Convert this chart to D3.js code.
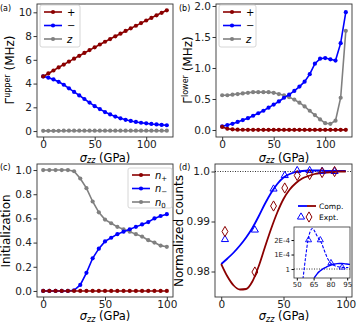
<!DOCTYPE html>
<html>
<head>
  <meta charset="utf-8">
  <script src="https://d3js.org/d3.v7.min.js"></script>
  <style>
    body { margin: 0; background: #fff; }
    text { font-family: "DejaVu Sans", sans-serif; }
  </style>
</head>
<body>
<script>
// ---- data ----
var sigAB = [0,5,10,15,20,25,30,35,40,45,50,55,60,65,70,75,80,85,90,95,100,105,110,115,120];
var upPlus  = [4.6,4.85,5.1,5.36,5.6,5.85,6.1,6.34,6.58,6.82,7.05,7.29,7.52,7.75,7.98,8.2,8.43,8.65,8.87,9.09,9.31,9.53,9.75,9.96,10.17];
var upMinus = [4.6,4.5,4.35,4.15,3.9,3.6,3.3,3.0,2.7,2.4,2.1,1.85,1.6,1.4,1.22,1.07,0.95,0.85,0.77,0.7,0.65,0.6,0.56,0.52,0.49];
var upZ     = [0.02,0.02,0.02,0.02,0.03,0.03,0.03,0.03,0.03,0.03,0.03,0.03,0.03,0.03,0.03,0.03,0.03,0.03,0.03,0.03,0.03,0.03,0.03,0.03,0.03];
var loPlus  = [0.05,0.02,0.01,0.005,0.004,0.003,0.003,0.003,0.002,0.002,0.002,0.002,0.002,0.002,0.002,0.002,0.002,0.002,0.002,0.002,0.002,0.002,0.002,0.002,0.002];
var loMinus = [0.06,0.08,0.1,0.13,0.16,0.19,0.23,0.27,0.31,0.36,0.41,0.46,0.52,0.57,0.63,0.7,0.78,0.9,1.07,1.15,1.16,1.14,1.12,1.4,1.9];
var loZ     = [0.56,0.56,0.57,0.58,0.59,0.6,0.61,0.61,0.61,0.61,0.6,0.58,0.56,0.53,0.49,0.44,0.38,0.31,0.24,0.17,0.11,0.1,0.15,0.52,1.6];

var sigC = [0,5,10,15,20,25,30,35,40,45,50,55,60,65,70,75,80,85,90,95,100];
var nPlus  = [0,0,0,0,0,0,0,0,0,0,0,0,0,0,0,0,0,0,0,0,0];
var nMinus = [0,0,0,0,0,0.005,0.05,0.15,0.27,0.35,0.41,0.44,0.47,0.49,0.51,0.53,0.55,0.57,0.6,0.62,0.635];
var nZero  = [1,1,1,1,1,0.99,0.93,0.85,0.74,0.65,0.59,0.56,0.53,0.51,0.49,0.47,0.45,0.42,0.4,0.375,0.365];

var sigD = [0,5,10,15,20,25,30,35,40,45,50,55,60,65,70,75,80,85,90,95,100];
var compBlue = [0.9815,0.9826,0.9838,0.9852,0.9868,0.9887,0.991,0.9935,0.9957,0.9975,0.9988,0.9995,0.9999,1.0001,1.0002,1.0002,1.0002,1.0001,1.0001,1.0001,1.0001];
var compRed  = [0.9815,0.979,0.9772,0.9764,0.9765,0.978,0.981,0.9848,0.9885,0.9918,0.9945,0.9964,0.9977,0.9986,0.9991,0.9995,0.9997,0.9998,0.9999,1.0,1.0];
var exptX    = [3,27,42,51,61,71,81,91];
var exptBlue = [0.9864,0.9883,0.9965,0.9992,1.0002,1.0002,1.00004,1.00001];
var exptRed  = [0.988,0.9799,0.9931,0.9967,0.9992,0.9994,0.9998,1.0];

// inset, deviation from 1 in units of 1E-4
var insDashX = [55.5,58,60,62,64,66,68,70,72,74,76,78,80,82,84,86,88,90,92,94,96];
var insDashY = [-0.7,0.9,2.0,2.6,2.8,2.6,2.3,2.05,1.8,1.4,1.0,0.65,0.42,0.3,0.22,0.17,0.14,0.12,0.1,0.1,0.1];
var insSolX  = [65.5,68,70,72,74,76,78,80,82,84,86,88,90,92,94,96,98];
var insSolY  = [-0.62,-0.35,-0.18,-0.06,0.04,0.12,0.2,0.26,0.31,0.35,0.37,0.38,0.38,0.37,0.35,0.33,0.32];
var insTriX  = [60.5,71,80.5,90.5];
var insTriY  = [2.0,2.0,0.42,0.12];

var RED = "#8b0000", BLUE = "#0000ff", GRAY = "#808080";

var svg = d3.select("body").append("svg").attr("width", 357).attr("height", 322);

function zip(xs, ys) { return xs.map(function (x, i) { return [x, ys[i]]; }); }

function panel(f, xd, yd, xt, yt, yfmt) {
  var x = d3.scaleLinear().domain(xd).range([f[0], f[1]]);
  var y = d3.scaleLinear().domain(yd).range([f[3], f[2]]);
  var g = svg.append("g");
  g.append("g").attr("transform", "translate(0," + f[3] + ")")
    .call(d3.axisBottom(x).tickValues(xt).tickSize(3.5).tickPadding(0.5));
  g.append("g").attr("transform", "translate(" + f[0] + ",0)")
    .call(d3.axisLeft(y).tickValues(yt).tickSize(3.5).tickPadding(1.5).tickFormat(yfmt));
  g.selectAll(".domain").remove();
  g.selectAll(".tick text").style("font-size", "10.5px").attr("fill", "#222");
  g.selectAll(".tick line").attr("stroke", "#333");
  g.append("rect").attr("x", f[0]).attr("y", f[2]).attr("width", f[1] - f[0]).attr("height", f[3] - f[2])
    .attr("fill", "none").attr("stroke", "#333").attr("stroke-width", 0.9);
  return { x: x, y: y, g: g };
}

function series(p, xs, ys, col) {
  var data = zip(xs, ys);
  p.g.append("path").datum(data)
    .attr("d", d3.line().x(function (d) { return p.x(d[0]); }).y(function (d) { return p.y(d[1]); }))
    .attr("fill", "none").attr("stroke", col).attr("stroke-width", 1.6);
  p.g.selectAll(null).data(data).enter().append("circle")
    .attr("cx", function (d) { return p.x(d[0]); }).attr("cy", function (d) { return p.y(d[1]); })
    .attr("r", 2.1).attr("fill", col);
}

function xlabel(cx, cy) {
  var t = svg.append("text").attr("x", cx).attr("y", cy).attr("text-anchor", "middle").style("font-size", "11.5px");
  t.append("tspan").style("font-style", "italic").text("σ");
  t.append("tspan").style("font-style", "italic").style("font-size", "8px").attr("dy", 1.5).text("zz");
  t.append("tspan").attr("dy", -1.5).text(" (GPa)");
}

function ylabel(cx, cy, parts) {
  var t = svg.append("text").attr("transform", "translate(" + cx + "," + cy + ") rotate(-90)")
    .attr("text-anchor", "middle").style("font-size", "12px");
  parts(t);
}

function plabel(x, y, s) {
  svg.append("text").attr("x", x).attr("y", y).style("font-size", "8px").text(s);
}

function legendBox(x, y, w, h, items) {
  svg.append("rect").attr("x", x).attr("y", y).attr("width", w).attr("height", h).attr("rx", 2)
    .attr("fill", "#fff").attr("fill-opacity", 0.85).attr("stroke", "#ccc").attr("stroke-width", 0.8);
  items.forEach(function (it, i) {
    var yy = y + 7 + i * 13.5;
    svg.append("line").attr("x1", x + 4).attr("x2", x + 22).attr("y1", yy).attr("y2", yy)
      .attr("stroke", it.c).attr("stroke-width", 1.6);
    svg.append("circle").attr("cx", x + 13).attr("cy", yy).attr("r", 2.1).attr("fill", it.c);
    var t = svg.append("text").attr("x", x + 27).attr("y", yy + 3.5).style("font-size", "10px");
    it.t(t);
  });
}

// ---- (a) ----
var pa = panel([37, 173, 4, 137], [-6, 126], [-0.5, 10.7], [0, 50, 100], [0, 2, 4, 6, 8, 10], d3.format("d"));
series(pa, sigAB, upZ, GRAY);
series(pa, sigAB, upMinus, BLUE);
series(pa, sigAB, upPlus, RED);
legendBox(40, 5, 40, 42, [
  { c: RED,  t: function (t) { t.text("+"); } },
  { c: BLUE, t: function (t) { t.text("−"); } },
  { c: GRAY, t: function (t) { t.style("font-style", "italic").text("z"); } }
]);
xlabel(105, 161.5);
ylabel(14, 70, function (t) {
  t.append("tspan").text("Γ");
  t.append("tspan").style("font-size", "8px").attr("dy", -4).text("upper");
  t.append("tspan").attr("dy", 4).text(" (MHz)");
});
plabel(0, 11, "(a)");

// ---- (b) ----
var pb = panel([216, 352, 4, 137], [-6, 126], [-0.113, 2.032], [0, 50, 100], [0, 0.5, 1, 1.5, 2], d3.format(".1f"));
series(pb, sigAB, loZ, GRAY);
series(pb, sigAB, loMinus, BLUE);
series(pb, sigAB, loPlus, RED);
legendBox(219, 5, 37, 42, [
  { c: RED,  t: function (t) { t.text("+"); } },
  { c: BLUE, t: function (t) { t.text("−"); } },
  { c: GRAY, t: function (t) { t.style("font-style", "italic").text("z"); } }
]);
xlabel(284, 161.5);
ylabel(192, 70, function (t) {
  t.append("tspan").text("Γ");
  t.append("tspan").style("font-size", "8px").attr("dy", -4).text("lower");
  t.append("tspan").attr("dy", 4).text(" (MHz)");
});
plabel(179, 11, "(b)");

// ---- (c) ----
var pc = panel([37, 173, 164, 297], [-5, 105], [-0.05, 1.05], [0, 50, 100], [0, 0.2, 0.4, 0.6, 0.8, 1.0], d3.format(".1f"));
series(pc, sigC, nZero, GRAY);
series(pc, sigC, nMinus, BLUE);
series(pc, sigC, nPlus, RED);
legendBox(128, 168, 44, 40, [
  { c: RED,  t: function (t) { t.style("font-style", "italic").text("n"); t.append("tspan").style("font-size", "7px").attr("dy", 2).text("+"); } },
  { c: BLUE, t: function (t) { t.style("font-style", "italic").text("n"); t.append("tspan").style("font-size", "7px").attr("dy", 2).text("−"); } },
  { c: GRAY, t: function (t) { t.style("font-style", "italic").text("n"); t.append("tspan").style("font-size", "7px").style("font-style", "normal").attr("dy", 2).text("0"); } }
]);
xlabel(105, 320);
ylabel(10, 231, function (t) { t.text("Initialization"); });
plabel(0, 170, "(c)");

// ---- (d) ----
var pd = panel([215, 352, 164, 297], [-5, 105], [0.9749, 1.0015], [0, 50, 100], [0.98, 0.99, 1.0], function (v) { return v === 1 ? "1.0" : d3.format(".2f")(v); });
pd.g.append("line").attr("x1", pd.x(-5)).attr("x2", pd.x(105)).attr("y1", pd.y(1)).attr("y2", pd.y(1))
  .attr("stroke", "#000").attr("stroke-width", 0.8).attr("stroke-dasharray", "1,1.5");
var lineD = d3.line().curve(d3.curveMonotoneX).x(function (d) { return pd.x(d[0]); }).y(function (d) { return pd.y(d[1]); });
pd.g.append("path").datum(zip(sigD, compBlue)).attr("d", lineD).attr("fill", "none").attr("stroke", BLUE).attr("stroke-width", 1.8);
pd.g.append("path").datum(zip(sigD, compRed)).attr("d", lineD).attr("fill", "none").attr("stroke", RED).attr("stroke-width", 1.8);
var tri = d3.symbol().type(d3.symbolTriangle).size(22);
var dia = d3.symbol().type(d3.symbolDiamond).size(30);
pd.g.selectAll(null).data(zip(exptX, exptBlue)).enter().append("path").attr("d", tri)
  .attr("transform", function (d) { return "translate(" + pd.x(d[0]) + "," + pd.y(d[1]) + ")"; })
  .attr("fill", "none").attr("stroke", BLUE).attr("stroke-width", 1);
pd.g.selectAll(null).data(zip(exptX, exptRed)).enter().append("path").attr("d", dia)
  .attr("transform", function (d) { return "translate(" + pd.x(d[0]) + "," + pd.y(d[1]) + ")"; })
  .attr("fill", "none").attr("stroke", RED).attr("stroke-width", 1);
// legend (no frame)
svg.append("line").attr("x1", 298).attr("x2", 307).attr("y1", 206).attr("y2", 206).attr("stroke", BLUE).attr("stroke-width", 1.8);
svg.append("line").attr("x1", 307).attr("x2", 316).attr("y1", 206).attr("y2", 206).attr("stroke", RED).attr("stroke-width", 1.8);
svg.append("text").attr("x", 319).attr("y", 209).style("font-size", "7.5px").text("Comp.");
svg.append("path").attr("d", tri).attr("transform", "translate(301,217)").attr("fill", "none").attr("stroke", BLUE).attr("stroke-width", 1);
svg.append("path").attr("d", dia).attr("transform", "translate(309,217)").attr("fill", "none").attr("stroke", RED).attr("stroke-width", 1);
svg.append("text").attr("x", 319).attr("y", 220).style("font-size", "7.5px").text("Expt.");
xlabel(284, 320);
ylabel(183, 231, function (t) { t.text("Normalized counts"); });
plabel(179, 170, "(d)");

// inset
var fi = [294, 350, 227, 278];
svg.append("rect").attr("x", fi[0]).attr("y", fi[2]).attr("width", fi[1] - fi[0]).attr("height", fi[3] - fi[2]).attr("fill", "#fff");
var ix = d3.scaleLinear().domain([47.5, 97.5]).range([fi[0], fi[1]]);
var iy = d3.scaleLinear().domain([-0.62, 2.9]).range([fi[3], fi[2]]);
var gi = svg.append("g");
gi.append("clipPath").attr("id", "ic").append("rect").attr("x", fi[0]).attr("y", fi[2]).attr("width", fi[1] - fi[0]).attr("height", fi[3] - fi[2]);
gi.append("g").attr("transform", "translate(0," + fi[3] + ")").call(d3.axisBottom(ix).tickValues([50, 65, 80, 95]).tickSize(2.5).tickPadding(1.5));
gi.append("g").attr("transform", "translate(" + fi[0] + ",0)").call(d3.axisLeft(iy).tickValues([0, 1, 2]).tickSize(2.5).tickPadding(1.5)
  .tickFormat(function (v) { return v === 0 ? "1" : v + "E-4"; }));
gi.selectAll(".domain").remove();
gi.selectAll(".tick text").style("font-size", "7px").attr("fill", "#222");
var gc = gi.append("g").attr("clip-path", "url(#ic)");
gc.append("line").attr("x1", fi[0]).attr("x2", fi[1]).attr("y1", iy(0)).attr("y2", iy(0))
  .attr("stroke", "#000").attr("stroke-width", 0.8).attr("stroke-dasharray", "1,1.5");
var lineI = d3.line().curve(d3.curveMonotoneX).x(function (d) { return ix(d[0]); }).y(function (d) { return iy(d[1]); });
gc.append("path").datum(zip(insDashX, insDashY)).attr("d", lineI).attr("fill", "none").attr("stroke", BLUE).attr("stroke-width", 1.1).attr("stroke-dasharray", "3,1.5");
gc.append("path").datum(zip(insSolX, insSolY)).attr("d", lineI).attr("fill", "none").attr("stroke", BLUE).attr("stroke-width", 1.4);
gc.selectAll(null).data(zip(insTriX, insTriY)).enter().append("path").attr("d", d3.symbol().type(d3.symbolTriangle).size(16))
  .attr("transform", function (d) { return "translate(" + ix(d[0]) + "," + iy(d[1]) + ")"; })
  .attr("fill", "none").attr("stroke", BLUE).attr("stroke-width", 0.9);
gi.append("rect").attr("x", fi[0]).attr("y", fi[2]).attr("width", fi[1] - fi[0]).attr("height", fi[3] - fi[2])
  .attr("fill", "none").attr("stroke", "#333").attr("stroke-width", 0.8);
</script>
</body>
</html>
